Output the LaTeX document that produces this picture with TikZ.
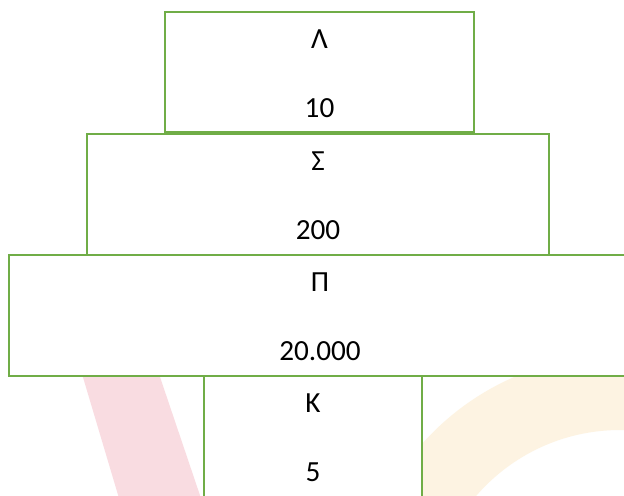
\documentclass[tikz,border=0pt]{standalone}
\usepackage{fontspec}
\setmainfont{Carlito}
\definecolor{boxgreen}{HTML}{70AD47}
\definecolor{wmpink}{HTML}{F9DCE1}
\definecolor{wmcream}{HTML}{FDF3E2}
\begin{document}
\begin{tikzpicture}[x=0.5pt, y=-0.5pt]
  \tikzset{
    level/.style={draw=boxgreen, line width=1.25pt, fill=white, rectangle, inner sep=0pt},
    lbl/.style={anchor=base, inner sep=0pt, font=\fontsize{14.6}{17}\selectfont},
  }

  \useasboundingbox (0,0) rectangle (624,495);
  \clip (0,0) rectangle (624,495);
  \fill[white] (0,0) rectangle (624,495);

  % faint marks behind the boxes
  \fill[wmpink] (60,300) -- (134,300) -- (210,525) -- (127,525) -- cycle;
  \fill[wmcream, even odd rule] (620,620) circle (132.5pt) (620,620) circle (95pt);

  \node[level, minimum width=154.5pt, minimum height=60pt] (lam) at (319.5,72) {};
  \node[level, minimum width=231pt, minimum height=60.5pt] (sig) at (318,194.5) {};
  \node[level, minimum width=311pt, minimum height=60.5pt] (pi) at (320,315.5) {};
  \node[level, minimum width=109pt, minimum height=72pt] (kap) at (313,448) {};

  \foreach \lvl/\sym/\amount in {lam/Λ/10, sig/Σ/200, pi/Π/20.000, kap/Κ/5}{
    \node[lbl] (\lvl-sym) at ([yshift=-19pt]\lvl.north) {\sym};
    \node[lbl] (\lvl-num) at ([yshift=-53.5pt]\lvl.north) {\amount};
  }
\end{tikzpicture}
\end{document}
